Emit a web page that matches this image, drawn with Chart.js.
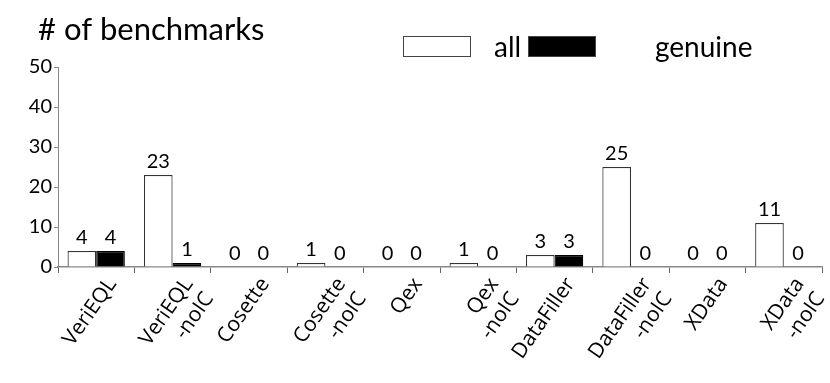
<!DOCTYPE html>
<html>
<head>
<meta charset="utf-8">
<script src="https://cdn.jsdelivr.net/npm/chart.js@4"></script>
<style>
  html, body { margin: 0; padding: 0; background: #fff; }
  #wrap { width: 830px; height: 383px; }
</style>
</head>
<body>
<div id="wrap"><canvas id="benchChart" width="830" height="383"></canvas></div>
<script>
// Data
const tools = [
    ['VeriEQL'], ['VeriEQL', '-noIC'], ['Cosette'], ['Cosette', '-noIC'], ['Qex'],
    ['Qex', '-noIC'], ['DataFiller'], ['DataFiller', '-noIC'], ['XData'], ['XData', '-noIC']
];
const allCounts = [4, 23, 0, 1, 0, 1, 3, 25, 0, 11];
const genuineCounts = [4, 1, 0, 0, 0, 0, 3, 0, 0, 0];
const yTicks = [0, 10, 20, 30, 40, 50];

const labelFont = 'Lato, "DejaVu Sans", sans-serif';

// Numbers above each bar
const valueLabels = {
    id: 'valueLabels',
    afterDatasetsDraw(chart) {
        const ctx = chart.ctx;
        ctx.save();
        ctx.fillStyle = '#000';
        ctx.font = '20px ' + labelFont;
        ctx.textAlign = 'center';
        ctx.textBaseline = 'bottom';
        chart.data.datasets.forEach((ds, i) => {
            chart.getDatasetMeta(i).data.forEach((bar, j) => {
                ctx.fillText(String(ds.data[j]), bar.x, bar.y - 3);
            });
        });
        ctx.restore();
    }
};

// Title at top left and legend boxes at top right
const header = {
    id: 'header',
    afterDraw(chart) {
        const ctx = chart.ctx;
        ctx.save();
        ctx.fillStyle = '#000';
        ctx.textBaseline = 'alphabetic';
        ctx.textAlign = 'left';
        ctx.font = '31px ' + labelFont;
        ctx.fillText('# of benchmarks', 38, 40);

        ctx.font = '28px ' + labelFont;
        const boxX = [403, 528];
        const textX = [494, 655];
        chart.data.datasets.forEach((ds, i) => {
            ctx.fillStyle = ds.backgroundColor;
            ctx.fillRect(boxX[i], 36, 68, 21);
            ctx.strokeStyle = '#444';
            ctx.lineWidth = 1;
            ctx.strokeRect(boxX[i] + 0.5, 36.5, 67, 20);
            ctx.fillStyle = '#000';
            ctx.fillText(ds.label, textX[i], 57);
        });
        ctx.restore();
    }
};

new Chart(document.getElementById('benchChart'), {
    type: 'bar',
    data: {
        labels: tools,
        datasets: [
            {
                label: 'all',
                data: allCounts,
                backgroundColor: '#ffffff',
                borderColor: '#333',
                borderWidth: 1.2
            },
            {
                label: 'genuine',
                data: genuineCounts,
                backgroundColor: '#000000',
                borderColor: '#000',
                borderWidth: 1.2
            }
        ]
    },
    options: {
        responsive: false,
        animation: false,
        layout: { padding: { top: 67, right: 8, left: 0, bottom: 0 } },
        datasets: { bar: { categoryPercentage: 0.75, barPercentage: 1 } },
        plugins: {
            legend: { display: false },
            tooltip: { enabled: false }
        },
        scales: {
            x: {
                offset: true,
                afterFit(axis) { axis.height = 116; },
                grid: { drawOnChartArea: false, tickLength: 6, color: '#666' },
                border: { color: '#888', width: 1.5 },
                ticks: {
                    color: '#000',
                    font: { size: 21, family: '"Open Sans", "DejaVu Sans", sans-serif' },
                    minRotation: 55,
                    maxRotation: 55,
                    labelOffset: 16,
                    padding: 0
                }
            },
            y: {
                min: 0,
                max: 50,
                afterFit(axis) { axis.width = 58; },
                afterBuildTicks(axis) { axis.ticks = yTicks.map(v => ({ value: v })); },
                grid: { drawOnChartArea: false, tickLength: 4, color: '#888' },
                border: { color: '#888', width: 1 },
                ticks: {
                    color: '#000',
                    font: { size: 20, family: labelFont },
                    padding: 2
                }
            }
        }
    },
    plugins: [valueLabels, header]
});
</script>
</body>
</html>
